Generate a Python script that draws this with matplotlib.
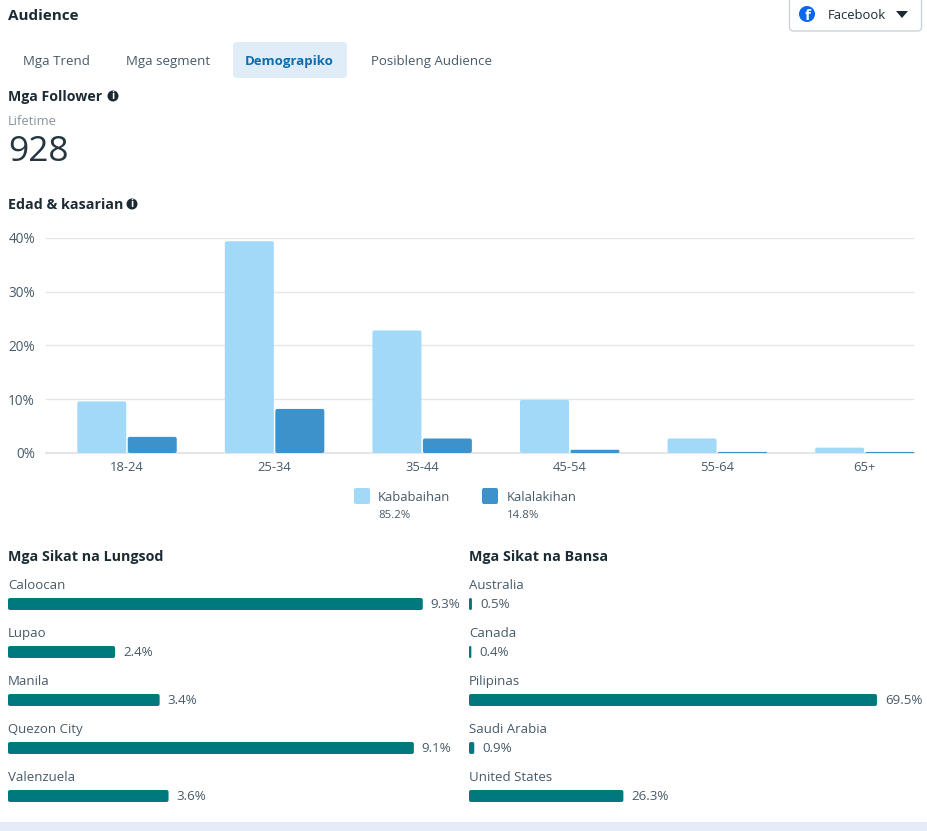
import matplotlib
matplotlib.use("Agg")
import matplotlib.pyplot as plt
from matplotlib.patches import FancyBboxPatch, Circle, Polygon

plt.rcParams['font.family'] = ['Open Sans', 'DejaVu Sans']

W, H = 928, 831
DARK = '#1c2b33'
GREY = '#465a69'

age_groups = ['18-24', '25-34', '35-44', '45-54', '55-64', '65+']
women = [9.6, 39.4, 22.8, 9.9, 2.7, 1.0]
men = [3.0, 8.2, 2.7, 0.6, 0.2, 0.2]
y_ticks = [0, 10, 20, 30, 40]

cities = ['Caloocan', 'Lupao', 'Manila', 'Quezon City', 'Valenzuela']
city_values = [9.3, 2.4, 3.4, 9.1, 3.6]
countries = ['Australia', 'Canada', 'Pilipinas', 'Saudi Arabia', 'United States']
country_values = [0.5, 0.4, 69.5, 0.9, 26.3]

tabs = ['Mga Trend', 'Mga segment', 'Demograpiko', 'Posibleng Audience']
tab_x = [23, 126, 245, 371]


def px_axes(fig, left, top, right, bottom):
    return fig.add_axes([left / W, 1 - bottom / H, (right - left) / W, (bottom - top) / H])


def rounded_bar(ax, x, y, w, h, color, r=2):
    # radius is in pixels, so work out how big a pixel is in data units
    box = ax.get_window_extent()
    x0, x1 = ax.get_xlim()
    y0, y1 = ax.get_ylim()
    sx = abs(x1 - x0) / box.width
    sy = abs(y1 - y0) / box.height
    r = min(r, w / sx / 2, h / sy / 2)
    pad = r * sx
    patch = FancyBboxPatch((x + pad, y + r * sy), max(w - 2 * pad, 1e-6), max(h - 2 * r * sy, 1e-6),
                           boxstyle='round,pad=%f,rounding_size=%f' % (pad, pad),
                           mutation_aspect=sy / sx, fc=color, ec='none', zorder=3)
    ax.add_patch(patch)


def info_icon(ax, x, y):
    ax.add_patch(Circle((x, y), 5.5, fc=DARK, ec='none'))
    ax.text(x, y + 0.3, 'i', color='white', fontsize=7.5, fontweight='bold', ha='center', va='center')


fig = plt.figure(figsize=(W / 100, H / 100), dpi=100, facecolor='white')

# page furniture in pixel coordinates
ui = fig.add_axes([0, 0, 1, 1])
ui.set_xlim(0, W)
ui.set_ylim(H, 0)
ui.axis('off')

ui.text(8, 16, 'Audience', fontsize=11, fontweight='bold', color=DARK, va='center')

ui.add_patch(FancyBboxPatch((789.5, -10), 132, 41, boxstyle='round,pad=0,rounding_size=4',
                            fc='white', ec='#cbd2d9', lw=1))
ui.add_patch(Circle((807, 14), 8, fc='#0a66f0', ec='none'))
ui.text(808, 15.5, 'f', color='white', fontsize=11, fontweight='bold', ha='center', va='center')
ui.text(828, 15.5, 'Facebook', fontsize=9.4, color=DARK, va='center')
ui.add_patch(Polygon([[896, 11], [908, 11], [902, 18]], fc=DARK, ec='none'))

ui.add_patch(FancyBboxPatch((233, 42), 114, 36, boxstyle='round,pad=0,rounding_size=4',
                            fc='#e0edf8', ec='none'))
for name, x in zip(tabs, tab_x):
    if name == 'Demograpiko':
        ui.text(x, 61.5, name, fontsize=9.5, fontweight='bold', color='#0a6db0', va='center')
    else:
        ui.text(x, 61.5, name, fontsize=9.55, color=GREY, va='center')

ui.text(8, 97, 'Mga Follower', fontsize=10.2, fontweight='bold', color=DARK, va='center')
info_icon(ui, 113, 96)
ui.text(8, 121.5, 'Lifetime', fontsize=9.4, color='#8a949c', va='center')
ui.text(8, 152, '928', fontsize=25.5, color='#263640', va='center')
ui.text(8, 205, 'Edad & kasarian', fontsize=10.3, fontweight='bold', color=DARK, va='center')
info_icon(ui, 132, 204)

# legend
ui.add_patch(FancyBboxPatch((354, 488), 16, 16, boxstyle='round,pad=0,rounding_size=2',
                            fc='#a2d9f8', ec='none'))
ui.text(378, 497.5, 'Kababaihan', fontsize=9.4, color=GREY, va='center')
ui.text(378, 515.5, '85.2%', fontsize=8.2, color=GREY, va='center')
ui.add_patch(FancyBboxPatch((482, 488), 16, 16, boxstyle='round,pad=0,rounding_size=2',
                            fc='#3e92cc', ec='none'))
ui.text(507, 497.5, 'Kalalakihan', fontsize=9.4, color=GREY, va='center')
ui.text(507, 515.5, '14.8%', fontsize=8.2, color=GREY, va='center')

ui.text(8, 557, 'Mga Sikat na Lungsod', fontsize=10.3, fontweight='bold', color=DARK, va='center')
ui.text(469, 557, 'Mga Sikat na Bansa', fontsize=10.3, fontweight='bold', color=DARK, va='center')

ui.add_patch(plt.Rectangle((0, 822), W, 9, fc='#e4ecfa', ec='none'))

# age and gender columns
ax = px_axes(fig, 46, 238, 914, 453)
ax.patch.set_alpha(0)
ax.set_xlim(-0.549, 5.333)
ax.set_ylim(0, 40)
for s in ax.spines.values():
    s.set_visible(False)
ax.set_yticks(y_ticks)
ax.set_yticklabels(['%d%%' % v for v in y_ticks], fontsize=9.8, color=GREY)
ax.set_xticks(range(len(age_groups)))
ax.set_xticklabels(age_groups, fontsize=9.4, color=GREY)
ax.tick_params(length=0)
ax.tick_params(axis='x', pad=6)
ax.tick_params(axis='y', pad=8)
ax.grid(axis='y', color='#e4e6e8', lw=1)
ax.grid(axis='x', visible=False)
ax.set_axisbelow(True)
ax.axhline(0, color='#e4e6e8', lw=1.5, zorder=1, clip_on=False)
bar_w = 0.332
for i in range(len(age_groups)):
    rounded_bar(ax, i - bar_w - 0.005, 0, bar_w, women[i], '#a2d9f8')
    rounded_bar(ax, i + 0.005, 0, bar_w, men[i], '#3e92cc')


def top_list(left, right, xmax, names, values):
    a = px_axes(fig, left, 580, right, 820)
    a.patch.set_alpha(0)
    a.set_xlim(0, xmax)
    a.set_ylim(4.5, -0.5)
    a.axis('off')
    sx = xmax / (right - left)
    for i, (name, v) in enumerate(zip(names, values)):
        rounded_bar(a, 0, i - 0.125, v, 0.25, '#00797d', r=2)
        a.text(0, i - 0.39, name, fontsize=9.55, color=GREY, va='center')
        a.text(v + 8 * sx, i + 0.02, '%.1f%%' % v, fontsize=9.6, color=GREY, va='center')
    return a


# 48px per row, first row centred on y=604
top_list(8, 452, 444 / 44.6, cities, city_values)
top_list(469, 925, 456 / 5.87, countries, country_values)

fig.savefig('out.png', dpi=100)
